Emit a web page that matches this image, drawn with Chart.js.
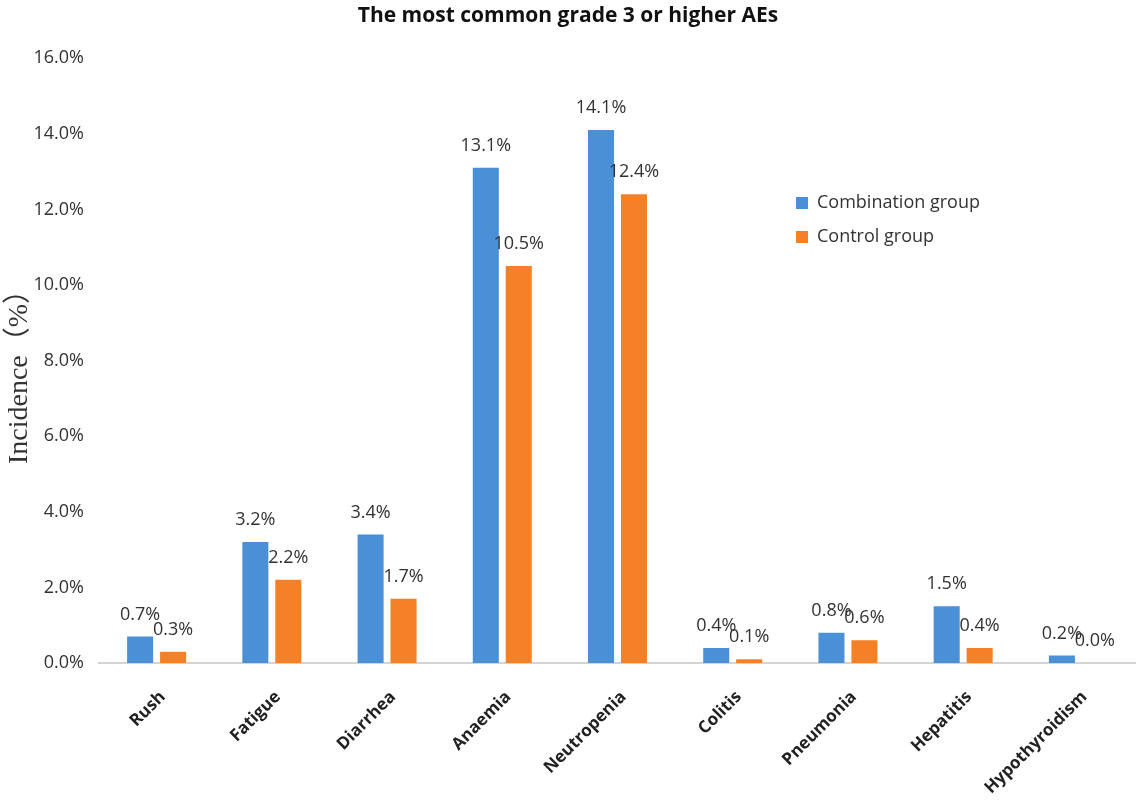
<!DOCTYPE html>
<html>
<head>
<meta charset="utf-8">
<title>Grade 3 or higher AEs</title>
<script src="https://cdn.jsdelivr.net/npm/chart.js@4"></script>
<style>
  html, body { margin: 0; padding: 0; background: #fff; }
  #wrap { width: 1136px; height: 801px; position: relative; }
</style>
</head>
<body>
<div id="wrap"><canvas id="aeChart"></canvas></div>
<script>
// adverse events (grade >= 3), incidence in %
const categories = ['Rush', 'Fatigue', 'Diarrhea', 'Anaemia', 'Neutropenia', 'Colitis', 'Pneumonia', 'Hepatitis', 'Hypothyroidism'];
const combinationGroup = [0.7, 3.2, 3.4, 13.1, 14.1, 0.4, 0.8, 1.5, 0.2];
const controlGroup = [0.3, 2.2, 1.7, 10.5, 12.4, 0.1, 0.6, 0.4, 0.0];
const yTicks = [0, 2, 4, 6, 8, 10, 12, 14, 16];

const BLUE = 'rgb(74, 144, 214)';
const ORANGE = 'rgb(245, 128, 37)';
const TEXT = '#333';

// value labels above every bar
const barLabels = {
    id: 'barLabels',
    afterDatasetsDraw(chart) {
        const ctx = chart.ctx;
        ctx.save();
        ctx.font = '18px "Open Sans", sans-serif';
        ctx.fillStyle = TEXT;
        ctx.textAlign = 'center';
        ctx.textBaseline = 'middle';
        chart.data.datasets.forEach((ds, i) => {
            chart.getDatasetMeta(i).data.forEach((bar, j) => {
                ctx.fillText(ds.data[j].toFixed(1) + '%', bar.x, bar.y - 22);
            });
        });
        ctx.restore();
    }
};

// legend box inside the plot, right side
const sideLegend = {
    id: 'sideLegend',
    afterDraw(chart) {
        const ctx = chart.ctx;
        ctx.save();
        ctx.font = '18px "Open Sans", sans-serif';
        ctx.textBaseline = 'middle';
        chart.data.datasets.forEach((ds, i) => {
            const y = 203 + i * 34;
            ctx.fillStyle = ds.backgroundColor;
            ctx.fillRect(796, y - 6, 12, 12);
            ctx.fillStyle = TEXT;
            ctx.fillText(ds.label, 817, y);
        });
        ctx.restore();
    }
};

// rotated y axis title
const yTitle = {
    id: 'yTitle',
    afterDraw(chart) {
        const ctx = chart.ctx;
        ctx.save();
        ctx.translate(20, 370);
        ctx.rotate(-Math.PI / 2);
        ctx.font = '28px "Liberation Serif", "Noto Sans CJK SC", serif';
        ctx.fillStyle = TEXT;
        ctx.textAlign = 'center';
        ctx.textBaseline = 'middle';
        ctx.fillText('Incidence（%）', 0, 0);
        ctx.restore();
    }
};

const ctx = document.getElementById('aeChart').getContext('2d');
new Chart(ctx, {
    type: 'bar',
    data: {
        labels: categories,
        datasets: [{
            label: 'Combination group',
            data: combinationGroup,
            backgroundColor: BLUE,
            categoryPercentage: 0.572,
            barPercentage: 0.79
        }, {
            label: 'Control group',
            data: controlGroup,
            backgroundColor: ORANGE,
            categoryPercentage: 0.572,
            barPercentage: 0.79
        }]
    },
    options: {
        responsive: true,
        maintainAspectRatio: false,
        animation: false,
        layout: { padding: 0 },
        plugins: {
            legend: { display: false },
            tooltip: { enabled: false },
            title: {
                display: true,
                text: 'The most common grade 3 or higher AEs',
                color: '#111',
                font: { family: '"Open Sans", sans-serif', size: 21, weight: 'bold' },
                padding: { top: 3, bottom: 30 }
            }
        },
        scales: {
            x: {
                grid: { display: false },
                border: { display: true, color: '#d4d4d4', width: 2 },
                ticks: {
                    color: '#222',
                    minRotation: 45,
                    maxRotation: 45,
                    padding: 16,
                    labelOffset: 6,
                    font: { family: '"Open Sans", sans-serif', size: 17, weight: 'bold' }
                },
                afterFit(scale) { scale.height = 138; }
            },
            y: {
                min: 0,
                max: 16,
                grid: { display: false },
                border: { display: false },
                afterBuildTicks(scale) { scale.ticks = yTicks.map(v => ({ value: v })); },
                ticks: {
                    color: TEXT,
                    padding: 7,
                    font: { family: '"Open Sans", sans-serif', size: 18 },
                    callback: v => v.toFixed(1) + '%'
                },
                afterFit(scale) { scale.width = 99; }
            }
        }
    },
    plugins: [barLabels, sideLegend, yTitle]
});
</script>
</body>
</html>
